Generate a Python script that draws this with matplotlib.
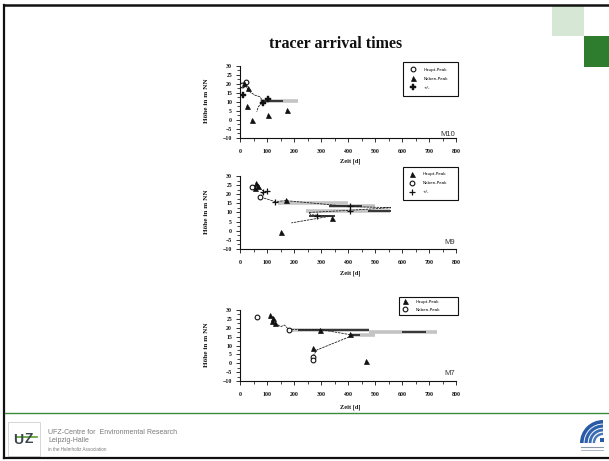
import matplotlib
matplotlib.use("Agg")
import matplotlib.pyplot as plt
from matplotlib.patches import Rectangle, Wedge
from matplotlib.lines import Line2D

W, H = 609, 461
SERIF = "Liberation Serif"
SANS = "Liberation Sans"

# ---------------- data ----------------
x_ticks = [0, 100, 200, 300, 400, 500, 600, 700, 800]
y_ticks = [-10, -5, 0, 5, 10, 15, 20, 25, 30]

# M10
m10_haupt_x = [9, 21]
m10_haupt_y = [19.4, 21.3]
m10_neben_x = [15, 31, 27, 45, 105, 173]
m10_neben_y = [20.5, 17.5, 8.0, 0.0, 2.5, 5.5]
m10_pm_x = [12, 105, 86]
m10_pm_y = [13.8, 11.9, 9.6]
m10_band_y = [10.3]
m10_band_lo = [75]
m10_band_hi = [215]
m10_core_y = [10.3]
m10_core_lo = [78]
m10_core_hi = [160]
m10_profile_x = [11, 37, 55, 74, 86, 68, 62]
m10_profile_y = [20.5, 15.6, 13.8, 12.9, 10.1, 7.4, 4.6]

# M9
m9_haupt_x = [59, 68, 56, 170, 151, 340]
m9_haupt_y = [26.0, 24.7, 23.6, 16.9, -0.8, 7.2]
m9_neben_x = [43, 74]
m9_neben_y = [24.0, 18.7]
m9_pm_x = [99, 86, 130, 407, 407, 285]
m9_pm_y = [21.8, 21.4, 16.0, 13.3, 11.0, 8.3]
m9_band_y = [15.3, 13.3, 11.0]
m9_band_lo = [140, 330, 245]
m9_band_hi = [400, 500, 555]
m9_core_y = [13.3, 11.0, 8.3]
m9_core_lo = [330, 475, 255]
m9_core_hi = [450, 558, 350]
m9_profile_x = [50, 90, 75, 130, 170, 405, 558, 405, 255, 262, 335, 190]
m9_profile_y = [25.0, 21.5, 18.5, 16.0, 16.5, 13.3, 12.6, 11.2, 10.0, 8.8, 8.0, 4.3]

# M7
m7_haupt_x = [111, 124, 118, 130, 297, 409, 272, 465]
m7_haupt_y = [27.2, 25.3, 24.0, 22.8, 19.0, 16.3, 8.5, 1.5]
m7_neben_x = [62, 180, 269, 272]
m7_neben_y = [25.9, 19.0, 3.8, 2.0]
m7_band_y = [19.0, 17.4, 15.8]
m7_band_lo = [180, 477, 409]
m7_band_hi = [477, 731, 500]
m7_core_y = [19.0, 17.4, 17.4, 15.8]
m7_core_lo = [215, 600, 640, 409]
m7_core_hi = [477, 640, 690, 445]
m7_profile_x = [130, 150, 165, 180, 297, 420, 285, 270]
m7_profile_y = [22.8, 20.6, 21.5, 19.0, 19.0, 15.8, 7.5, 4.0]

lbl_haupt = "Haupt-Peak"
lbl_neben = "Neben-Peak"
lbl_pm = "+/-"

# ---------------- figure ----------------
fig = plt.figure(figsize=(W / 100, H / 100), dpi=100)

# page overlay in pixel coordinates
pg = fig.add_axes([0, 0, 1, 1], zorder=0)
pg.set_xlim(0, W)
pg.set_ylim(H, 0)
pg.axis("off")

# slide frame
pg.add_line(Line2D([4, 4], [5, 458], color="#111111", lw=1.6))
pg.add_line(Line2D([4, W], [5, 5], color="#111111", lw=1.8))
pg.add_line(Line2D([4, W], [458, 458], color="#111111", lw=1.6))
pg.add_line(Line2D([5, W], [412.5, 412.5], color="#3c8c3c", lw=1.0))

# corner squares
pg.add_patch(Rectangle((552, 6), 31.5, 30, facecolor="#d6e7d5", edgecolor="none"))
pg.add_patch(Rectangle((583.5, 36), 25.5, 31.5, facecolor="#2e7d2e", edgecolor="none"))

# title
pg.text(336, 44, "tracer arrival times", ha="center", va="center",
        fontsize=11.5, fontweight="bold", family=SERIF, color="#111111")

# footer: UFZ mark
pg.add_patch(Rectangle((8, 422), 32, 34, facecolor="white", edgecolor="#cfcfcf", lw=0.6))
pg.text(18, 440, "U", ha="center", va="center", fontsize=10, fontweight="bold",
        family=SANS, color="#3b4650")
pg.text(29, 439, "Z", ha="center", va="center", fontsize=10, fontweight="bold",
        family=SANS, color="#3b4650")
pg.add_line(Line2D([17, 37], [436.5, 436.5], color="#5aa02c", lw=1.2))

pg.text(48, 432, "UFZ-Centre for  Environmental Research", ha="left", va="center",
        fontsize=5, family=SANS, color="#7a7a7a")
pg.text(48, 440, "Leipzig-Halle", ha="left", va="center",
        fontsize=5, family=SANS, color="#7a7a7a")
pg.text(48, 449.5, "in the Helmholtz Association", ha="left", va="center",
        fontsize=3.3, family=SANS, color="#7a7a7a")

# footer: Helmholtz mark
for r, w, c in [(23, 3.6, "#2a5aa5"), (18.5, 3.2, "#2f62ad"), (14.3, 2.8, "#3a6cb4"), (10.3, 2.4, "#4a78bb")]:
    pg.add_patch(Wedge((603, 443), r, 180, 270, width=w, facecolor=c, edgecolor="none"))
pg.add_patch(Rectangle((600, 438), 4, 4, facecolor="#2a5aa5", edgecolor="none"))
pg.add_line(Line2D([581, 603], [447, 447], color="#8899aa", lw=0.8))
pg.add_line(Line2D([581, 603], [449.5, 449.5], color="#99aabb", lw=0.6))


def px_rect(left, top, right, bottom):
    return [left / W, 1 - bottom / H, (right - left) / W, (bottom - top) / H]


def style_axes(ax):
    ax.set_facecolor("none")
    ax.set_xlim(0, 800)
    ax.set_ylim(-10, 30)
    for s in ("top", "right"):
        ax.spines[s].set_visible(False)
    for s in ("left", "bottom"):
        ax.spines[s].set_linewidth(0.8)
        ax.spines[s].set_color("#111111")
    ax.set_xticks(x_ticks)
    ax.set_xticks(range(50, 800, 100), minor=True)
    ax.set_yticks(y_ticks)
    ax.set_yticks([v + 2.5 for v in y_ticks[:-1]], minor=True)
    ax.tick_params(axis="both", which="major", direction="out", length=3.2,
                   width=0.6, labelsize=4.2, colors="#111111")
    ax.tick_params(axis="both", which="minor", direction="out", length=2.2, width=0.5)
    ax.tick_params(axis="x", pad=5)
    ax.tick_params(axis="y", pad=2.5)
    for t in ax.get_xticklabels() + ax.get_yticklabels():
        t.set_family(SERIF)
        t.set_fontweight("bold")


def draw_panel(ax, profile_x, profile_y, band_y, band_lo, band_hi,
               core_y, core_lo, core_hi):
    ax.hlines(band_y, band_lo, band_hi, colors="#c4c4c4", lw=2.6, zorder=2)
    ax.hlines(core_y, core_lo, core_hi, colors="#2a2a2a", lw=1.3, zorder=3)
    ax.plot(profile_x, profile_y, color="#222222", lw=0.6, ls=(0, (3, 1)), zorder=4)


tri_kw = dict(ls="none", marker="^", ms=3.6, mfc="#111111", mec="#111111", mew=0.5, zorder=5)
circ_kw = dict(ls="none", marker="o", ms=3.4, mfc="white", mec="#111111", mew=0.8, zorder=5)

legend_kw = dict(loc="upper left", mode="expand", fontsize=3, frameon=True, fancybox=False,
                 edgecolor="#111111", framealpha=1, handlelength=1.6, handletextpad=1.8,
                 borderaxespad=0)

# ---------- M10 ----------
ax1 = fig.add_axes(px_rect(240, 66, 456, 138), zorder=1)
style_axes(ax1)
draw_panel(ax1, m10_profile_x, m10_profile_y, m10_band_y, m10_band_lo, m10_band_hi,
           m10_core_y, m10_core_lo, m10_core_hi)
h1, = ax1.plot(m10_haupt_x, m10_haupt_y, **circ_kw)
h2, = ax1.plot(m10_neben_x, m10_neben_y, **tri_kw)
h3, = ax1.plot(m10_pm_x, m10_pm_y, ls="none", marker="P", ms=3.8, mfc="#111111",
               mec="#111111", mew=0.3, zorder=5)
leg = ax1.legend([h1, h2, h3], [lbl_haupt, lbl_neben, lbl_pm],
                 bbox_to_anchor=(0.755, 0, 0.254, 1.06), borderpad=1.5, labelspacing=1.2,
                 **legend_kw)
leg.get_frame().set_linewidth(0.8)

# ---------- M9 ----------
ax2 = fig.add_axes(px_rect(240, 176, 456, 249), zorder=1)
style_axes(ax2)
draw_panel(ax2, m9_profile_x, m9_profile_y, m9_band_y, m9_band_lo, m9_band_hi,
           m9_core_y, m9_core_lo, m9_core_hi)
g1, = ax2.plot(m9_haupt_x, m9_haupt_y, **tri_kw)
g2, = ax2.plot(m9_neben_x, m9_neben_y, **circ_kw)
g3, = ax2.plot(m9_pm_x, m9_pm_y, ls="none", marker="+", ms=4.2, mec="#111111",
               mew=0.9, zorder=5)
leg = ax2.legend([g1, g2, g3], [lbl_haupt, lbl_neben, lbl_pm],
                 bbox_to_anchor=(0.755, 0, 0.254, 1.127), borderpad=1.3, labelspacing=1.2,
                 **legend_kw)
leg.get_frame().set_linewidth(0.8)

# ---------- M7 ----------
ax3 = fig.add_axes(px_rect(240, 310, 456, 381), zorder=1)
style_axes(ax3)
draw_panel(ax3, m7_profile_x, m7_profile_y, m7_band_y, m7_band_lo, m7_band_hi,
           m7_core_y, m7_core_lo, m7_core_hi)
k1, = ax3.plot(m7_haupt_x, m7_haupt_y, **tri_kw)
k2, = ax3.plot(m7_neben_x, m7_neben_y, **circ_kw)
leg = ax3.legend([k1, k2], [lbl_haupt, lbl_neben],
                 bbox_to_anchor=(0.736, 0, 0.273, 1.183), borderpad=0.7, labelspacing=0.9,
                 **legend_kw)
leg.get_frame().set_linewidth(0.8)

# axis titles and well names
for ax, top, bottom, name, name_y, xl_y in [
        (ax1, 66, 138, "M10", 134, 161),
        (ax2, 176, 249, "M9", 242, 273),
        (ax3, 310, 381, "M7", 373, 407)]:
    pg.text(206, (top + bottom) / 2 - 1, "Höhe in m NN", rotation=90, ha="center",
            va="center", fontsize=5.2, fontweight="bold", family=SERIF, color="#111111")
    pg.text(350, xl_y, "Zeit [d]", ha="center", va="center", fontsize=4.6,
            fontweight="bold", family=SERIF, color="#111111")
    pg.text(455, name_y, name, ha="right", va="center", fontsize=5.5,
            family=SANS, color="#333333")

fig.savefig("out.png", dpi=100)
